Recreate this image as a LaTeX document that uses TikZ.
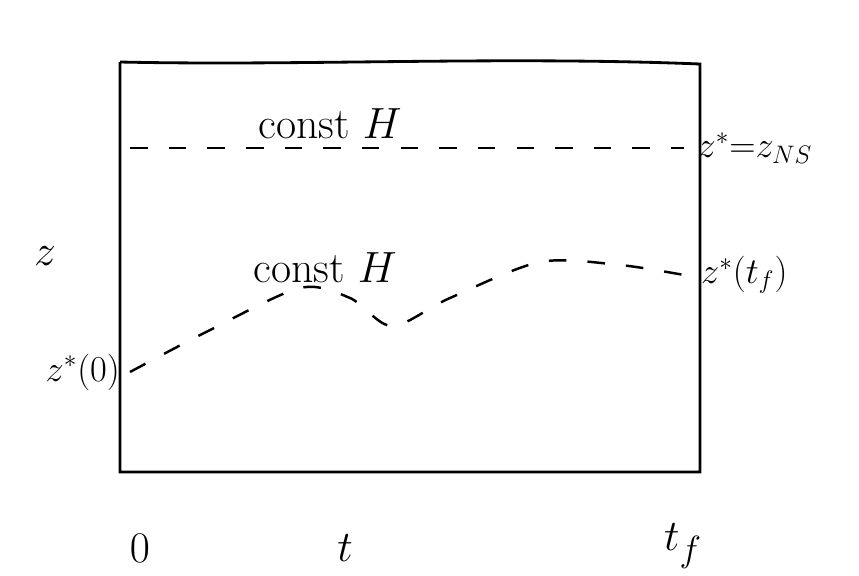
\documentclass[tikz,border=0pt]{standalone}
\usepackage{amsmath,amssymb}
\usepackage{tikz}
\usetikzlibrary{positioning}

\begin{document}
\begin{tikzpicture}[x=0.02cm,y=-0.02cm,line width=1.6pt]
\useasboundingbox (0,0) rectangle (859,575);
\tikzset{lbl/.style={font=\Huge,inner sep=1pt},
  side/.style={font=\huge,inner sep=1pt},
  path/.style={dashed,dash pattern=on 10pt off 12pt,line width=1.4pt}}
\draw (120,62) -- (120,472) -- (700,472) -- (700,64)
  .. controls (500,56) and (300,66) .. (120,62);
\coordinate (ns0) at (130,148); \coordinate (ns1) at (684,148);
\draw[path] (ns0) -- (ns1);
\coordinate (p0) at (130,372); \coordinate (p1) at (684,275);
\draw[path] (p0) plot[smooth] coordinates {(130,372) (210,330) (300,288) (350,298) (392,326) (450,298) (540,262) (620,265) (684,275)};
\node[lbl] (constA) at (330,124) {const $H$};
\node[side,right=6pt of ns1] (zns) {$z^*{=}z_{NS}$};
\node[lbl] (constB) at (325,268) {const $H$};
\node[side,right=8pt of p1] (zf) {$z^*(t_f)$};
\node[side,left=4pt of p0] (z0) {$z^*(0)$};
\node[lbl] (zax) at (45,256) {$z$};
\node[lbl] (t0) at (140,548) {$0$};
\node[lbl] (tt) at (345,548) {$t$};
\node[lbl] (tf) at (683,546) {$t_f$};
\end{tikzpicture}
\end{document}
